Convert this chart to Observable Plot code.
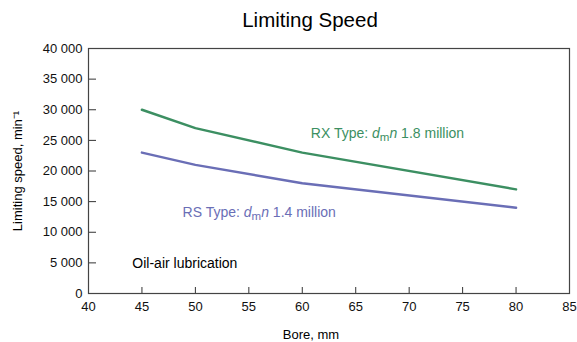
<!DOCTYPE html>
<html>
<head>
<meta charset="utf-8">
<script src="https://cdn.jsdelivr.net/npm/d3@7"></script>
<script src="https://cdn.jsdelivr.net/npm/@observablehq/plot@0.6"></script>
<style>
  html, body { margin: 0; padding: 0; background: #fff; }
  svg { font-family: "Liberation Sans", Arial, Helvetica, sans-serif; }
</style>
</head>
<body>
<div id="chart"></div>
<script>
const bore = [45, 50, 60, 80];
const rxSpeed = [30000, 27000, 23000, 17000];
const rsSpeed = [23000, 21000, 18000, 14000];
const seriesNames = ["RX", "RS"];
const seriesColors = ["#3c8f62", "#6a6eb6"];
const xTicks = [40, 45, 50, 55, 60, 65, 70, 75, 80, 85];
const yTicks = [0, 5000, 10000, 15000, 20000, 25000, 30000, 35000, 40000];
const labelTexts = ["RX Type: d_m_n 1.8 million", "RS Type: d_m_n 1.4 million", "Oil-air lubrication"];
const labelX = [60.8, 48.8, 44.1];
const labelY = [26100, 13200, 4900];
const labelColors = ["#3c8f62", "#6a6eb6", "#000"];
const title = "Limiting Speed";
const xLabel = "Bore, mm";
const yLabel = "Limiting speed, min⁻¹";

const rows = [];
bore.forEach((b, i) => {
  rows.push({series: "RX", bore: b, speed: rxSpeed[i]});
  rows.push({series: "RS", bore: b, speed: rsSpeed[i]});
});
const labels = labelTexts.map((t, i) => ({text: t, x: labelX[i], y: labelY[i], color: labelColors[i]}));
const fmt = d => d3.format(",")(d).replace(/,/g, " ");

const svg = Plot.plot({
  width: 577,
  height: 342,
  marginLeft: 88,
  marginRight: 8,
  marginTop: 48,
  marginBottom: 49,
  style: {fontFamily: '"Liberation Sans", Arial, Helvetica, sans-serif', fontSize: "13px", color: "#111"},
  x: {domain: [40, 85]},
  y: {domain: [0, 40000]},
  color: {domain: seriesNames, range: seriesColors},
  marks: [
    Plot.axisY({ticks: yTicks, tickSize: -8, tickPadding: 14, tickFormat: fmt, label: null, stroke: "#333", fill: "#111", fontSize: 13}),
    Plot.axisX({ticks: xTicks, tickSize: -6, tickPadding: 14, label: null, stroke: "#333", fill: "#111", fontSize: 13}),
    Plot.frame({stroke: "#444", strokeWidth: 1.2}),
    Plot.line(rows, {x: "bore", y: "speed", z: "series", stroke: "series", strokeWidth: 2.5, curve: "linear"}),
    Plot.text(labels, {x: "x", y: "y", text: "text", fill: "color", textAnchor: "start", fontSize: 14}),
    Plot.text([title], {frameAnchor: "top", lineAnchor: "middle", textAnchor: "middle", dy: -28, dx: -19, fontSize: 20.5, fill: "#000"}),
    Plot.text([xLabel], {frameAnchor: "bottom", lineAnchor: "middle", textAnchor: "middle", dy: 41, dx: -18, fontSize: 13, fill: "#000"}),
    Plot.text([yLabel], {frameAnchor: "left", lineAnchor: "middle", textAnchor: "middle", dx: -71, rotate: -90, fontSize: 13, fill: "#000"})
  ]
});

// Rich-text formatting for d_m n labels (italic d, subscript m, italic n)
d3.select(svg).selectAll("text").each(function() {
  const t = this.textContent;
  if (t.includes("d_m_n")) {
    const [before, after] = t.split("d_m_n");
    const sel = d3.select(this);
    sel.text(null);
    sel.append("tspan").text(before);
    sel.append("tspan").attr("font-style", "italic").text("d");
    sel.append("tspan").attr("dy", "3").attr("font-size", "11.5").text("m");
    sel.append("tspan").attr("dy", "-3").attr("font-style", "italic").text("n");
    sel.append("tspan").text(after);
  }
});

document.getElementById("chart").appendChild(svg);
</script>
</body>
</html>
